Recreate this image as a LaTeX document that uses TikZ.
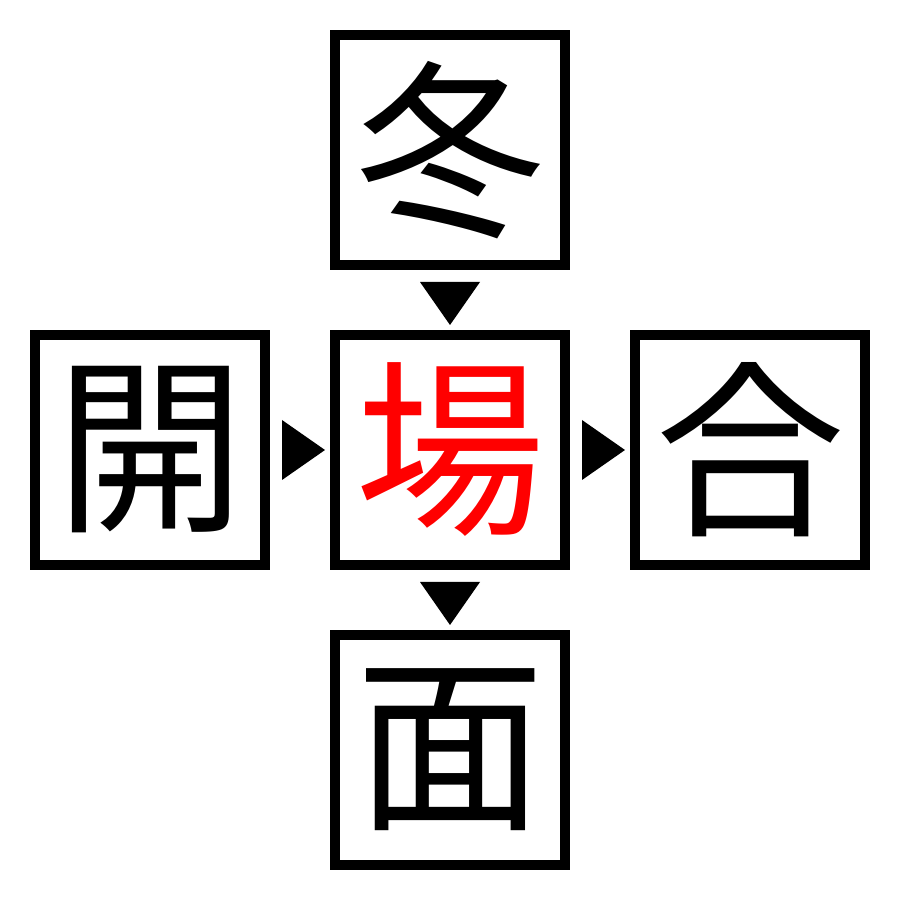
\documentclass[tikz,border=0pt]{standalone}
\usepackage{fontspec}
\newfontfamily\cjk{Noto Sans CJK JP}
\usetikzlibrary{calc}

\tikzset{
	kanji/.style = {draw, line width = 1mm, minimum size = 2.3cm, inner sep = 0pt,
		font = \cjk\fontsize{54}{54}\selectfont},
}

\begin{document}
\begin{tikzpicture}
			\useasboundingbox (0,0) rectangle (9,9);

			\node [kanji] (top) at (4.5,7.5) {冬};
			\node [kanji] (left) at (1.5,4.5) {開};
			\node [kanji, text = red] (mid) at (4.5,4.5) {場};
			\node [kanji] (right) at (7.5,4.5) {合};
			\node [kanji] (bottom) at (4.5,1.5) {面};

			% arrow heads between the boxes
			\fill ($(top.south)+(-0.3,-0.12)$) -- ($(top.south)+(0.3,-0.12)$) -- ($(mid.north)+(0,0.05)$) -- cycle;
			\fill ($(mid.south)+(-0.3,-0.12)$) -- ($(mid.south)+(0.3,-0.12)$) -- ($(bottom.north)+(0,0.05)$) -- cycle;
			\fill ($(left.east)+(0.12,0.3)$) -- ($(left.east)+(0.12,-0.3)$) -- ($(mid.west)+(-0.05,0)$) -- cycle;
			\fill ($(mid.east)+(0.12,0.3)$) -- ($(mid.east)+(0.12,-0.3)$) -- ($(right.west)+(-0.05,0)$) -- cycle;
		\end{tikzpicture}
\end{document}
